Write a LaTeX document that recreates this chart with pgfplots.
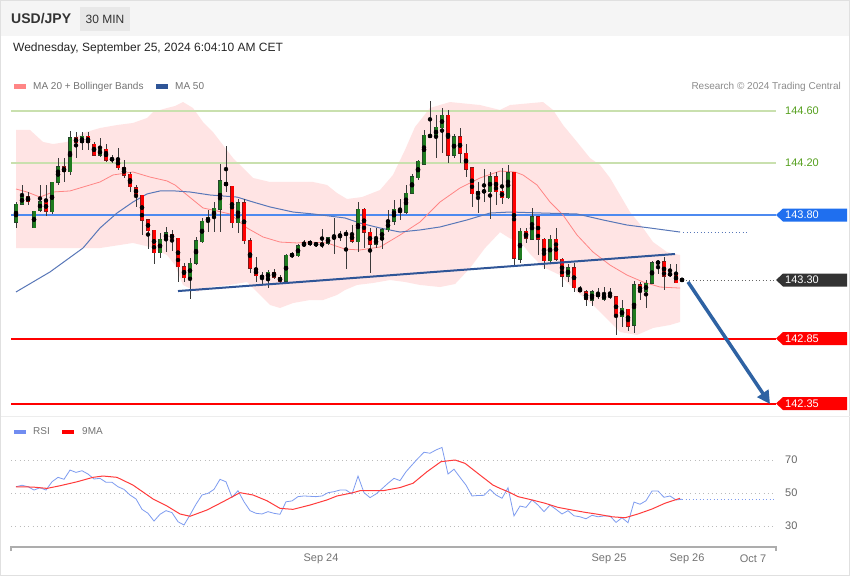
\documentclass[border=0pt]{standalone}
\usepackage{pgfplots}
\pgfplotsset{compat=1.18}
\usepackage{pgfplotstable}
\usepackage{fontspec}
\setmainfont{Liberation Sans}
\usetikzlibrary{arrows.meta}

\definecolor{candleup}{HTML}{1E7B1E}
\definecolor{candleupedge}{HTML}{24452A}
\definecolor{candledn}{HTML}{FF0000}
\definecolor{candlednedge}{HTML}{7A1A1A}
\definecolor{wick}{HTML}{3A3A3A}
\definecolor{bandfill}{HTML}{FFE4E4}
\definecolor{ma20}{HTML}{FF8585}
\definecolor{ma50}{HTML}{5877B8}
\definecolor{trend}{HTML}{2F5597}
\definecolor{arrowblue}{HTML}{2E62A3}
\definecolor{lvlgreen}{HTML}{C9E0AE}
\definecolor{lvlgreentext}{HTML}{55A01E}
\definecolor{lvlblue}{HTML}{4D8AF0}
\definecolor{tagblue}{HTML}{1F6FEF}
\definecolor{tagdark}{HTML}{333333}
\definecolor{lvlred}{HTML}{FF0000}
\definecolor{rsiblue}{HTML}{7E9CF0}
\definecolor{rsired}{HTML}{FF3B3B}
\definecolor{gridgray}{HTML}{BBBBBB}
\definecolor{txtgray}{HTML}{666666}
\definecolor{txtdark}{HTML}{333333}

% USD/JPY 30 min candles: index, open, high, low, close
\pgfplotstableread{
i o h l c
0 143.744 143.902 143.698 143.885
1 143.882 144.031 143.877 143.946
2 143.941 143.979 143.877 143.902
3 143.702 143.835 143.700 143.831
4 143.838 144.031 143.825 143.902
5 143.902 144.031 143.795 143.831
6 143.825 144.056 143.813 144.052
7 144.052 144.236 144.031 144.172
8 144.172 144.241 144.052 144.133
9 144.133 144.446 144.108 144.395
10 144.395 144.436 144.236 144.356
11 144.356 144.436 144.300 144.405
12 144.405 144.436 144.300 144.356
13 144.344 144.364 144.254 144.262
14 144.262 144.390 144.248 144.305
15 144.305 144.344 144.210 144.223
16 144.223 144.262 144.198 144.236
17 144.236 144.313 144.146 144.164
18 144.164 144.223 144.087 144.108
19 144.115 144.133 143.979 144.018
20 144.010 144.031 143.864 143.959
21 143.954 143.954 143.646 143.762
22 143.762 143.762 143.538 143.677
23 143.685 143.685 143.421 143.510
24 143.510 143.659 143.467 143.615
25 143.613 143.710 143.518 143.664
26 143.652 143.685 143.523 143.621
27 143.621 143.621 143.287 143.402
28 143.402 143.428 143.282 143.318
29 143.318 143.467 143.154 143.428
30 143.428 143.633 143.415 143.602
31 143.595 143.775 143.582 143.754
32 143.754 143.838 143.672 143.779
33 143.779 143.898 143.672 143.852
34 143.844 144.190 143.667 144.062
35 144.052 144.333 143.975 144.025
36 144.023 144.023 143.698 143.741
37 143.741 143.921 143.659 143.895
38 143.895 143.921 143.575 143.602
39 143.602 143.621 143.352 143.390
40 143.390 143.479 143.287 143.333
41 143.331 143.364 143.267 143.318
42 143.313 143.377 143.236 143.359
43 143.359 143.385 143.308 143.321
44 143.321 143.338 143.275 143.292
45 143.292 143.498 143.287 143.492
46 143.487 143.515 143.469 143.498
47 143.487 143.577 143.477 143.564
48 143.564 143.608 143.556 143.582
49 143.595 143.608 143.562 143.575
50 143.582 143.595 143.556 143.569
51 143.564 143.692 143.548 143.582
52 143.582 143.633 143.569 143.625
53 143.621 143.775 143.498 143.633
54 143.633 143.677 143.600 143.652
55 143.652 143.685 143.385 143.656
56 143.652 143.723 143.582 143.600
57 143.595 143.902 143.513 143.846
58 143.846 143.856 143.548 143.667
59 143.667 143.698 143.359 143.575
60 143.575 143.698 143.548 143.615
61 143.615 143.702 143.538 143.685
62 143.685 143.838 143.667 143.754
63 143.754 143.915 143.723 143.846
64 143.838 143.923 143.762 143.825
65 143.821 144.031 143.805 143.967
66 143.967 144.113 143.959 144.095
67 144.087 144.223 144.069 144.215
68 144.190 144.454 144.185 144.415
69 144.415 144.677 144.395 144.402
70 144.402 144.569 144.236 144.475
71 144.472 144.625 144.275 144.569
72 144.569 144.608 144.198 144.262
73 144.262 144.421 144.236 144.402
74 144.402 144.472 144.198 144.275
75 144.275 144.344 144.095 144.154
76 144.164 144.172 143.864 143.962
77 143.954 144.052 143.813 143.985
78 143.979 144.154 143.902 143.987
79 143.979 144.133 143.769 144.095
80 144.095 144.133 143.882 143.979
81 143.985 144.159 143.882 143.933
82 143.933 144.190 143.923 144.128
83 144.128 144.128 143.410 143.467
84 143.462 143.698 143.428 143.677
85 143.677 143.698 143.582 143.621
86 143.615 143.852 143.608 143.787
87 143.787 143.787 143.492 143.615
88 143.615 143.621 143.385 143.448
89 143.448 143.646 143.421 143.615
90 143.615 143.702 143.446 143.459
91 143.459 143.472 143.248 143.331
92 143.331 143.428 143.287 143.395
93 143.395 143.428 143.210 143.241
94 143.236 143.256 143.205 143.210
95 143.210 143.223 143.102 143.154
96 143.146 143.223 143.102 143.210
97 143.198 143.236 143.154 143.172
98 143.154 143.248 143.138 143.185
99 143.185 143.241 143.154 143.172
100 143.172 143.172 142.877 143.018
101 143.018 143.146 142.941 143.082
102 143.075 143.075 142.910 142.946
103 142.954 143.295 142.890 143.262
104 143.262 143.287 143.146 143.210
105 143.210 143.300 143.082 143.275
106 143.275 143.448 143.269 143.433
107 143.428 143.454 143.346 143.441
108 143.441 143.475 143.228 143.331
109 143.352 143.428 143.321 143.338
110 143.352 143.423 143.275 143.279
111 143.304 143.306 143.296 143.300
}\candles

% RSI (14) per candle
\pgfplotstableread{
i v
0 53.8
1 54.7
2 53.8
3 51.8
4 53.2
5 51.8
6 56.8
7 59.5
8 58.3
9 63.9
10 62.5
11 63.5
12 61.5
13 58.5
14 58.9
15 56.5
16 56.5
17 53.8
18 52.2
19 48.8
20 46.4
21 40.1
22 37.7
23 33.0
24 37.1
25 39.3
26 38.1
27 32.6
28 30.6
29 36.7
30 43.2
31 48.8
32 49.8
33 52.2
34 58.3
35 56.8
36 47.4
37 51.4
38 44.7
39 39.3
40 37.7
41 37.3
42 38.7
43 37.7
44 37.1
45 44.7
46 45.2
47 47.8
48 48.2
49 48.0
50 47.8
51 48.2
52 50.2
53 50.8
54 51.8
55 51.8
56 49.4
57 60.3
58 50.2
59 47.2
60 49.4
61 52.6
62 55.9
63 58.9
64 57.5
65 62.9
66 67.0
67 71.0
68 74.7
69 74.1
70 76.1
71 77.6
72 61.5
73 64.4
74 59.5
75 54.8
76 48.2
77 48.5
78 48.6
79 52.2
80 48.8
81 46.8
82 53.2
83 36.1
84 42.1
85 41.3
86 45.8
87 42.7
88 38.7
89 42.7
90 40.1
91 37.3
92 39.3
93 36.2
94 35.6
95 34.4
96 36.5
97 35.6
98 36.1
99 36.1
100 32.2
101 35.0
102 32.0
103 44.5
104 43.2
105 45.3
106 51.2
107 51.2
108 47.4
109 48.2
110 45.8
111 46.2
}\rsi

\newcommand{\pricetag}[3]{%
  \fill[#2] (776,#1) -- (783,#1-6.5) -- (847,#1-6.5) -- (847,#1+6.5) -- (783,#1+6.5) -- cycle;
  \node[anchor=west, text=white, font=\fontsize{11}{13}\selectfont, inner sep=0pt] at (785,#1) {#3};}

\begin{document}
\begin{tikzpicture}
\begin{scope}[x=1pt,y=-1pt]
  \useasboundingbox (0,0) rectangle (850,576);
  \fill[white] (0,0) rectangle (850,576);
  \fill[black!4] (0.5,0.5) rectangle (849.5,36);
  \draw[black!12] (0.5,0.5) rectangle (849.5,575.5);
  \draw[black!7] (0.5,416) -- (849.5,416);
\end{scope}

% ---------------- price panel ----------------
\begin{axis}[
    at={(11pt,-95pt)}, anchor=north west,
    scale only axis, width=765pt, height=320pt,
    xmin=-0.8333, xmax=126.6667,
    ymin=142.26154, ymax=144.72308,
    hide axis,
  ]
  % Bollinger band (MA 20 +/- 2 sd)
  \addplot[fill=bandfill, draw=none] coordinates {
    (0,144.454) (2.33,144.454) (4.5,144.362) (6.17,144.346) (8.5,144.362)
    (11.17,144.431) (14,144.469) (16.83,144.492) (19.5,144.508) (21.83,144.546)
    (22.83,144.592) (25.17,144.623) (26.5,144.638) (27.83,144.669) (29.5,144.623)
    (31.17,144.515) (32.83,144.438) (34.5,144.338) (36.17,144.238) (37.83,144.162)
    (39.5,144.085) (42.33,144.054) (46.83,144.054) (49.5,144.054) (51.83,144.031)
    (53.5,143.969) (55.17,143.923) (57.67,143.938) (60.67,143.992) (62.83,144.108)
    (64.83,144.300) (66.5,144.477) (69,144.623) (72.33,144.669) (77.33,144.646)
    (80.67,144.608) (82.33,144.646) (87.83,144.669) (89.5,144.608) (91.17,144.492)
    (93.5,144.362) (95.67,144.238) (97.33,144.185) (99,144.085) (100.67,143.954)
    (102.33,143.823) (104.5,143.700) (106.17,143.592) (108.5,143.515) (110.67,143.492)
    (110.67,142.977) (109,142.954) (106.17,142.931) (103.5,142.877) (100.67,142.900)
    (99,142.977) (96.17,143.108) (93.5,143.208) (90.67,143.338) (87.83,143.400)
    (85.67,143.500) (84,143.600) (82.33,143.620) (80.67,143.668) (78.17,143.546)
    (75.67,143.392) (73.17,143.269) (70.67,143.246) (67.33,143.262) (64.83,143.285)
    (62.33,143.300) (59.5,143.277) (56.83,143.262) (54.83,143.223) (53.5,143.185)
    (51.17,143.146) (49,143.146) (46.17,143.123) (44,143.085) (42.33,143.108)
    (40.17,143.208) (38.5,143.285) (35.67,143.262) (32.33,143.246) (30.17,143.208)
    (27.83,143.262) (26.5,143.415) (25.17,143.492) (22.33,143.554) (19.5,143.585)
    (14,143.546) (8.5,143.546) (0,143.546)
  } -- cycle;

  % levels
  \addplot[lvlgreen, line width=1.5pt] coordinates {(-0.8333,144.60) (126.6667,144.60)};
  \addplot[lvlgreen, line width=1.5pt] coordinates {(-0.8333,144.20) (126.6667,144.20)};
  \addplot[lvlblue, line width=1.5pt] coordinates {(-0.8333,143.80) (126.6667,143.80)};
  \addplot[lvlred, line width=2pt] coordinates {(-0.8333,142.85) (126.6667,142.85)};
  \addplot[lvlred, line width=2pt] coordinates {(-0.8333,142.35) (126.6667,142.35)};
  \addplot[black!60, line width=0.9pt, dash pattern=on 1pt off 2.5pt] coordinates {(111,143.30) (126.6667,143.30)};

  % MA 20
  \addplot[ma20, line width=0.8pt] coordinates {
    (0,144.000) (1.83,143.977) (4,143.938) (6.17,143.977) (9,143.985) (11.17,144.015)
    (14,144.054) (16.17,144.108) (19.5,144.131) (22.33,144.092) (25.17,144.062)
    (26.5,144.031) (28.5,143.954) (31.17,143.854) (32.83,143.838) (35.67,143.808)
    (38.5,143.700) (41.17,143.631) (44,143.592) (46.83,143.585) (49,143.592)
    (51.83,143.585) (54.83,143.538) (57.33,143.531) (60.67,143.554) (64,143.646)
    (67.33,143.746) (70.67,143.900) (74,144.008) (77.33,144.085) (80.67,144.138)
    (83.17,144.131) (84.5,144.108) (86.83,144.031) (89,143.900) (91.17,143.800)
    (93.5,143.646) (96.17,143.515) (99,143.415) (101.83,143.338) (104.5,143.285)
    (107.33,143.246) (110.67,143.238)
  };
  % MA 50
  \addplot[ma50, line width=1pt] coordinates {
    (0,143.208) (5.67,143.362) (11.17,143.546) (14,143.700) (16.83,143.815)
    (19.5,143.900) (21.83,143.962) (24,143.985) (26.5,143.985) (29,143.977)
    (32.33,143.954) (36.83,143.938) (39.5,143.900) (42.33,143.862) (46.17,143.823)
    (49.5,143.808) (54.83,143.777) (57.33,143.738) (60.67,143.700) (64,143.669)
    (67.33,143.685) (70.67,143.708) (75.17,143.762) (79,143.815) (82.33,143.823)
    (87.83,143.815) (93.5,143.808) (97.83,143.762) (101.83,143.723) (105.67,143.700)
    (110.67,143.669)
  };
  \addplot[ma50, line width=0.9pt, dash pattern=on 1pt off 2.5pt] coordinates {(111.2,143.669) (122,143.669)};

  % wicks
  \addplot[only marks, mark=none,
    error bars/.cd, y dir=both, y explicit, error mark=none,
    error bar style={line width=1pt, draw=wick}]
    table[x=i, y expr={(\thisrow{h}+\thisrow{l})/2}, y error expr={(\thisrow{h}-\thisrow{l})/2}] {\candles};
  % up bodies
  \addplot[only marks, mark=none, restrict expr to domain={\thisrow{c}-\thisrow{o}}{0:5},
    error bars/.cd, y dir=both, y explicit, error mark=none,
    error bar style={line width=4.4pt, draw=candleupedge}]
    table[x=i, y expr={(\thisrow{o}+\thisrow{c})/2}, y error expr={max(abs(\thisrow{c}-\thisrow{o})/2,0.004)+0.004}] {\candles};
  \addplot[only marks, mark=none, restrict expr to domain={\thisrow{c}-\thisrow{o}}{0:5},
    error bars/.cd, y dir=both, y explicit, error mark=none,
    error bar style={line width=3pt, draw=candleup}]
    table[x=i, y expr={(\thisrow{o}+\thisrow{c})/2}, y error expr={max(abs(\thisrow{c}-\thisrow{o})/2,0.004)}] {\candles};
  % down bodies
  \addplot[only marks, mark=none, restrict expr to domain={\thisrow{c}-\thisrow{o}}{-5:0},
    error bars/.cd, y dir=both, y explicit, error mark=none,
    error bar style={line width=4.4pt, draw=candlednedge}]
    table[x=i, y expr={(\thisrow{o}+\thisrow{c})/2}, y error expr={max(abs(\thisrow{c}-\thisrow{o})/2,0.004)+0.004}] {\candles};
  \addplot[only marks, mark=none, restrict expr to domain={\thisrow{c}-\thisrow{o}}{-5:0},
    error bars/.cd, y dir=both, y explicit, error mark=none,
    error bar style={line width=3pt, draw=candledn}]
    table[x=i, y expr={(\thisrow{o}+\thisrow{c})/2}, y error expr={max(abs(\thisrow{c}-\thisrow{o})/2,0.004)}] {\candles};

  % support trend line and target arrow
  \addplot[trend, line width=2pt] coordinates {(27,143.215) (109.83,143.500)};
  \addplot[arrowblue, line width=3.5pt, -{Triangle[length=13pt, width=13pt]}] coordinates {(112,143.285) (125.67,142.346)};
\end{axis}

% ---------------- RSI panel ----------------
\begin{axis}[
    at={(11pt,-440pt)}, anchor=north west,
    scale only axis, width=765pt, height=100pt,
    xmin=-0.8333, xmax=126.6667,
    ymin=21.515, ymax=82.121,
    hide axis,
  ]
  \addplot[gridgray, line width=0.9pt, dash pattern=on 1pt off 3.3pt] coordinates {(-0.8333,70) (126.6667,70)};
  \addplot[gridgray, line width=0.9pt, dash pattern=on 1pt off 3.3pt] coordinates {(-0.8333,50) (126.6667,50)};
  \addplot[gridgray, line width=0.9pt, dash pattern=on 1pt off 3.3pt] coordinates {(-0.8333,30) (126.6667,30)};
  \addplot[rsiblue, line width=0.8pt] table[x=i, y=v] {\rsi};
  \addplot[rsiblue, line width=0.9pt, dash pattern=on 1pt off 2.5pt] coordinates {(111,46.2) (126.5,46.2)};
  % 9-period MA of RSI
  \addplot[rsired, line width=1pt] coordinates {
    (0,53.8) (2.83,53.6) (5.17,52.8) (7.33,54.4) (10.17,56.8) (12.83,59.5) (14.5,60.3)
    (16.83,59.5) (19.5,54.8) (22.83,46.4) (25.17,42.1) (27.33,37.3) (29,35.9)
    (31.83,39.7) (34.5,44.7) (37.33,50.2) (39.5,48.8) (41.83,45.3) (44,40.7)
    (46.17,40.1) (49,42.7) (51.83,45.8) (53.5,48.2) (56.17,50.2) (57.33,51.4)
    (61.17,51.4) (64,53.3) (66.17,55.9) (68.5,62.9) (70.83,69.0) (73.17,70.0)
    (74.83,68.0) (77.33,60.9) (79.5,54.8) (80.67,52.8) (82,50.8) (83.67,47.8)
    (86,45.8) (88.17,43.8) (90.33,41.3) (92.67,39.7) (94.83,38.3) (97,37.1)
    (99.33,35.6) (101.5,35.0) (103.67,37.3) (106,40.3) (108.17,43.8) (110.67,46.8)
  };
\end{axis}

% ---------------- labels, tags, header ----------------
\begin{scope}[x=1pt,y=-1pt]
  % header
  \node[anchor=west, inner sep=0pt, text=txtdark, font=\fontsize{14}{16}\selectfont\bfseries] at (11,18.5) {USD/JPY};
  \fill[black!9] (80,7) rectangle (130,31);
  \node[inner sep=0pt, text=txtdark, font=\fontsize{12}{14}\selectfont] at (105,19) {30 MIN};
  \node[anchor=west, inner sep=0pt, text=black!85, font=\fontsize{12}{14}\selectfont] at (13,48.5) {Wednesday, September 25, 2024 6:04:10 AM CET};

  % legends
  \fill[ma20] (14,84) rectangle (26,89);
  \node[anchor=west, inner sep=0pt, text=black!55, font=\fontsize{10}{12}\selectfont] at (33,86.5) {MA 20 + Bollinger Bands};
  \fill[trend] (156,84) rectangle (168,89);
  \node[anchor=west, inner sep=0pt, text=black!55, font=\fontsize{10}{12}\selectfont] at (175,86.5) {MA 50};
  \node[anchor=east, inner sep=0pt, text=black!45, font=\fontsize{10}{12}\selectfont] at (841,86.5) {Research © 2024 Trading Central};
  \fill[rsiblue!90!blue] (14,429.5) rectangle (26,434);
  \node[anchor=west, inner sep=0pt, text=black!55, font=\fontsize{10}{12}\selectfont] at (33,431.5) {RSI};
  \fill[lvlred] (62,429.5) rectangle (74,434);
  \node[anchor=west, inner sep=0pt, text=black!55, font=\fontsize{10}{12}\selectfont] at (82,431.5) {9MA};

  % price levels on the right
  \node[anchor=west, inner sep=0pt, text=lvlgreentext, font=\fontsize{11}{13}\selectfont] at (785,111) {144.60};
  \node[anchor=west, inner sep=0pt, text=lvlgreentext, font=\fontsize{11}{13}\selectfont] at (785,163) {144.20};
  \pricetag{215}{tagblue}{143.80}
  \pricetag{280}{tagdark}{143.30}
  \pricetag{338.5}{lvlred}{142.85}
  \pricetag{403.5}{lvlred}{142.35}

  % RSI scale
  \node[anchor=west, inner sep=0pt, text=black!60, font=\fontsize{11}{13}\selectfont] at (785,460) {70};
  \node[anchor=west, inner sep=0pt, text=black!60, font=\fontsize{11}{13}\selectfont] at (785,493) {50};
  \node[anchor=west, inner sep=0pt, text=black!60, font=\fontsize{11}{13}\selectfont] at (785,526) {30};

  % time axis
  \draw[black!32, line width=1.5pt] (11,551) -- (11,547) -- (776,547) -- (776,551);
  \foreach \xx/\lab in {321/Sep 24, 609/Sep 25, 687/Sep 26, 753/Oct 7}
    \node[inner sep=0pt, text=black!55, font=\fontsize{11}{13}\selectfont] at (\xx,559) {\lab};
\end{scope}
\end{tikzpicture}
\end{document}
